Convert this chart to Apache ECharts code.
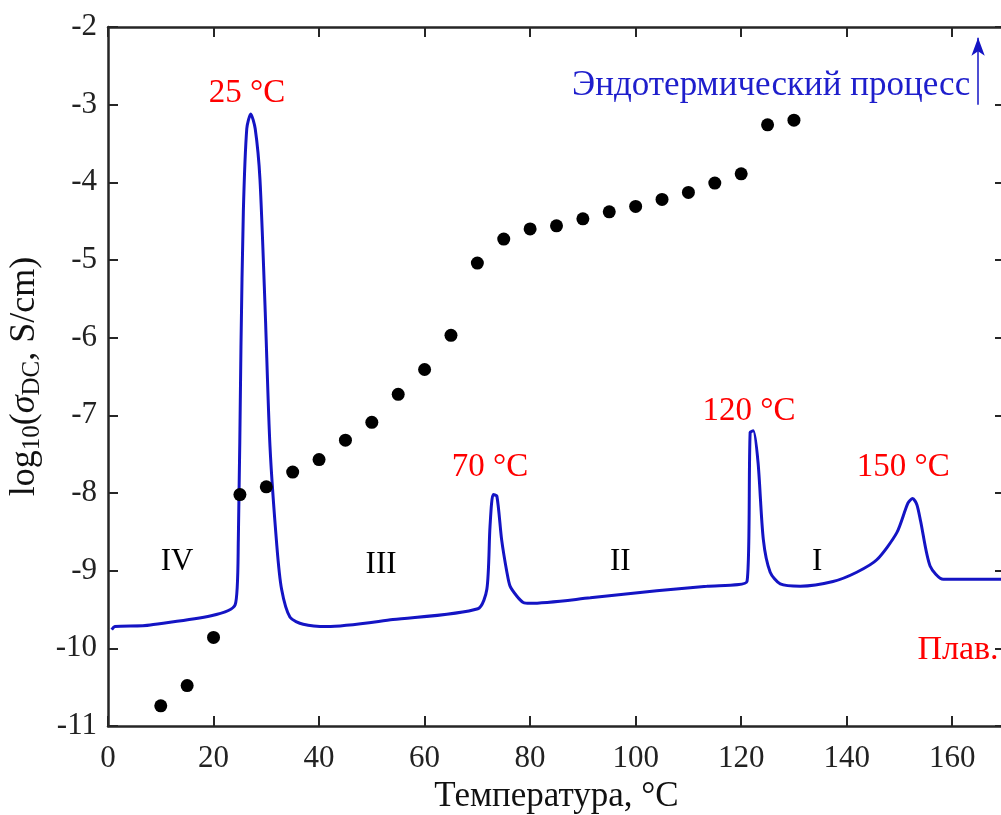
<!DOCTYPE html>
<html>
<head>
<meta charset="utf-8">
<script src="https://cdn.jsdelivr.net/npm/echarts@6/dist/echarts.min.js"></script>
<style>
  html, body { margin: 0; padding: 0; background: #fff; }
  #chart { width: 1001px; height: 815px; }
</style>
</head>
<body>
<div id="chart"></div>
<script>
// проводимость log10(sigma_DC), точки
const condT   = [10, 15, 20, 25, 30, 35, 40, 45, 50, 55, 60, 65, 70, 75, 80, 85, 90, 95, 100, 105, 110, 115, 120, 125, 130];
const condLog = [-10.74, -10.48, -9.86, -8.02, -7.92, -7.73, -7.57, -7.32, -7.09, -6.73, -6.41, -5.97, -5.04,
                 -4.73, -4.60, -4.56, -4.47, -4.38, -4.31, -4.22, -4.13, -4.01, -3.89, -3.26, -3.20];

// кривая ДСК (в тех же единицах оси)
const dscT   = [0.7, 1.3, 8.0, 24.1, 24.7, 25.2, 25.65, 26.3, 27.05, 27.9, 28.8, 29.8, 30.7, 32.0, 32.9, 34.5, 37.0, 41.5,
                54.0, 70.1, 71.8, 72.4, 73.0, 73.7, 74.6, 75.6, 76.2, 77.5, 78.7, 80.0, 91.4, 104.0, 113.5, 121.1,
                121.7, 122.3, 123.2, 124.2, 125.5, 127.4, 131.2, 137.4, 141.9, 145.7, 149.5, 151.6, 152.5, 153.3, 154.0,
                155.8, 158.3, 162.8, 170.0];
const dscVal = [-9.76, -9.72, -9.70, -9.44, -8.60, -6.11, -4.38, -3.31, -3.12, -3.31, -3.96, -5.67, -7.40, -8.68, -9.24,
                -9.60, -9.69, -9.72, -9.63, -9.49, -9.24, -8.43, -8.02, -8.04, -8.60, -9.02, -9.20, -9.33, -9.41, -9.42,
                -9.35, -9.26, -9.20, -9.14, -7.22, -7.20, -7.61, -8.60, -9.02, -9.17, -9.20, -9.14, -9.02, -8.86,
                -8.51, -8.13, -8.07, -8.15, -8.36, -8.94, -9.11, -9.11, -9.11];

// подписи пиков
const peakText = ['25 °C', '70 °C', '120 °C', '150 °C'];
const peakX    = [26.35, 72.4, 121.5, 150.7];
const peakY    = [-2.86, -7.67, -6.95, -7.67];

// области
const regionText = ['IV', 'III', 'II', 'I'];
const regionX    = [13.1, 51.75, 97.1, 134.4];
const regionY    = [-8.89, -8.92, -8.89, -8.89];

// прочие подписи
const meltText = 'Плав.';
const meltPos  = [153.4, -10.02];
const endoText = 'Эндотермический процесс';
const endoPos  = [163.4, -2.76];
const arrowX   = 164.9;
const arrowY   = [-3.0, -2.14];

const xMin = 0, xMax = 170, xStep = 20;
const yMin = -11, yMax = -2, yStep = 1;

const FONT = 'Liberation Serif';
const AXIS = '#262626';
const BLUE = '#1414c4';

let chart = echarts.init(document.getElementById('chart'));

let annot = [];
for (let i = 0; i < peakText.length; i++) {
    annot.push({ value: [peakX[i], peakY[i]], txt: peakText[i], color: '#ff0000', align: 'center', size: 33 });
}
for (let i = 0; i < regionText.length; i++) {
    annot.push({ value: [regionX[i], regionY[i]], txt: regionText[i], color: '#000', align: 'center', size: 31 });
}
annot.push({ value: meltPos, txt: meltText, color: '#ff0000', align: 'left', size: 34 });
annot.push({ value: endoPos, txt: endoText, color: '#1e1ecc', align: 'right', size: 35 });

let annotData = annot.map(function (a) {
    return {
        value: a.value,
        label: {
            show: true,
            position: 'inside',
            formatter: a.txt,
            color: a.color,
            align: a.align,
            verticalAlign: 'middle',
            fontFamily: FONT,
            fontSize: a.size
        }
    };
});

let xBase = {
    type: 'value', min: xMin, max: xMax, interval: xStep,
    axisLine: { show: true, onZero: false, lineStyle: { color: AXIS, width: 2.5 } },
    axisTick: { show: true, inside: true, length: 10, lineStyle: { color: AXIS, width: 2 } },
    splitLine: { show: false }
};
let yBase = {
    type: 'value', min: yMin, max: yMax, interval: yStep,
    axisLine: { show: true, onZero: false, lineStyle: { color: AXIS, width: 2.5 } },
    axisTick: { show: true, inside: true, length: 10, lineStyle: { color: AXIS, width: 2 } },
    splitLine: { show: false }
};

let option = {
    animation: false,
    backgroundColor: '#fff',
    grid: { left: 108, width: 897, top: 27, bottom: 89, containLabel: false, outerBoundsMode: 'none' },
    xAxis: [
        Object.assign({}, xBase, {
            position: 'bottom',
            name: 'Температура, °C',
            nameLocation: 'middle',
            nameGap: 53,
            nameTextStyle: { fontFamily: FONT, fontSize: 35, color: '#111' },
            axisLabel: { fontFamily: FONT, fontSize: 31, color: '#222', margin: 17, showMaxLabel: false }
        }),
        Object.assign({}, xBase, { position: 'top', axisLabel: { show: false } })
    ],
    yAxis: [
        Object.assign({}, yBase, {
            position: 'left',
            name: '{n|log}{s|10}{n|(}{i|σ}{s|DC}{n|, S/cm)}',
            nameLocation: 'middle',
            nameGap: 56,
            nameTextStyle: {
                fontFamily: FONT, fontSize: 36, color: '#111',
                rich: {
                    n: { fontFamily: FONT, fontSize: 36, lineHeight: 40 },
                    i: { fontFamily: FONT, fontSize: 36, fontStyle: 'italic', lineHeight: 40 },
                    s: { fontFamily: FONT, fontSize: 25, lineHeight: 16, verticalAlign: 'bottom' }
                }
            },
            axisLabel: { fontFamily: FONT, fontSize: 31, color: '#222', margin: 11 }
        }),
        Object.assign({}, yBase, { position: 'right', axisLabel: { show: false } })
    ],
    series: [
        {
            name: 'DSC',
            type: 'line',
            data: dscT.map(function (t, i) { return [t, dscVal[i]]; }),
            showSymbol: false,
            smooth: 0.25,
            lineStyle: { color: BLUE, width: 3 },
            z: 2
        },
        {
            name: 'sigma',
            type: 'scatter',
            data: condT.map(function (t, i) { return [t, condLog[i]]; }),
            symbolSize: 13,
            itemStyle: { color: '#000', opacity: 1 },
            z: 3
        },
        {
            name: 'labels',
            type: 'scatter',
            data: annotData,
            symbolSize: 0,
            itemStyle: { color: 'transparent', opacity: 1 },
            silent: true,
            z: 4,
            markLine: {
                silent: true,
                symbol: ['none', 'arrow'],
                symbolSize: [10, 18],
                label: { show: false },
                lineStyle: { color: BLUE, width: 1.5, type: 'solid', opacity: 1 },
                data: [[{ coord: [arrowX, arrowY[0]] }, { coord: [arrowX, arrowY[1]] }]]
            }
        }
    ]
};

chart.setOption(option);
window.addEventListener('resize', function () { chart.resize(); });
</script>
</body>
</html>
